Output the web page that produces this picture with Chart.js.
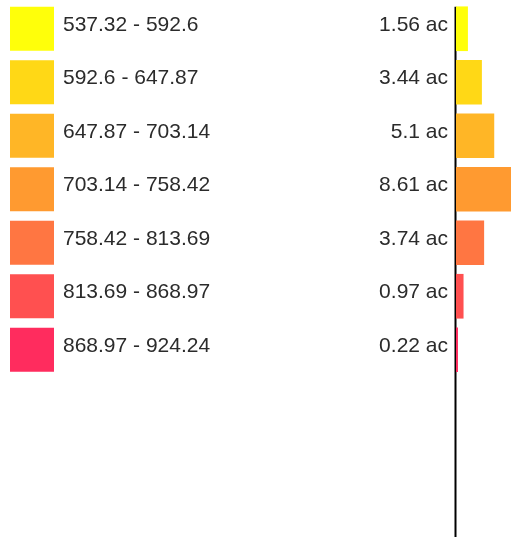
<!DOCTYPE html>
<html>
<head>
<meta charset="utf-8">
<script src="https://cdn.jsdelivr.net/npm/chart.js@4"></script>
<style>
  html, body { margin: 0; padding: 0; background: #fff; overflow: hidden; }
  #wrap { width: 511px; height: 537px; }
</style>
</head>
<body>
<div id="wrap"><canvas id="chart-acres" width="511" height="537"></canvas></div>
<script>
// ==================== DATOS ====================
const rangos = ['537.32 - 592.6', '592.6 - 647.87', '647.87 - 703.14', '703.14 - 758.42',
                '758.42 - 813.69', '813.69 - 868.97', '868.97 - 924.24'];
const acres = [1.56, 3.44, 5.1, 8.61, 3.74, 0.97, 0.22];
const colores = ['#FFFF0A', '#FFD816', '#FFB626', '#FF9A30', '#FF7642', '#FF5050', '#FF2C5E'];
const filasVacias = ['', '', ''];

const fuente = '"Liberation Sans", Arial, Helvetica, sans-serif';

// swatches + etiquetas de rango a la izquierda, y la linea del eje
const leyendaIzq = {
    id: 'leyendaIzq',
    beforeDatasetsDraw(chart) {
        // eje vertical: empieza en el borde superior de la primera barra
        const ctx = chart.ctx;
        const y = chart.scales.y;
        const area = chart.chartArea;
        ctx.save();
        ctx.strokeStyle = '#000';
        ctx.lineWidth = 2;
        ctx.beginPath();
        ctx.moveTo(area.left - 0.5, y.getPixelForValue(0) - 22);
        ctx.lineTo(area.left - 0.5, area.bottom);
        ctx.stroke();
        ctx.restore();
    },
    afterDraw(chart) {
        const ctx = chart.ctx;
        const y = chart.scales.y;
        ctx.save();
        rangos.forEach((r, i) => {
            const py = y.getPixelForValue(i);
            ctx.fillStyle = colores[i];
            ctx.fillRect(10, py - 22, 44, 44);
            ctx.fillStyle = '#2b2b2b';
            ctx.font = '21px ' + fuente;
            ctx.textAlign = 'left';
            ctx.textBaseline = 'middle';
            ctx.fillText(r, 63, py - 4);
        });
        ctx.restore();
    }
};

const ctx = document.getElementById('chart-acres').getContext('2d');
new Chart(ctx, {
    type: 'bar',
    data: {
        labels: rangos.concat(filasVacias),
        datasets: [{
            data: acres,
            backgroundColor: colores,
            borderWidth: 0,
            barThickness: 44
        }]
    },
    options: {
        indexAxis: 'y',
        responsive: false,
        animation: false,
        layout: { padding: { top: 2, left: 0, right: 0, bottom: 0 } },
        plugins: { legend: { display: false }, tooltip: { enabled: false }, title: { display: false } },
        scales: {
            x: { display: false, min: 0, max: 7.4 },
            y: {
                grid: { display: false, drawTicks: false },
                border: { display: false },
                ticks: {
                    padding: 8,
                    labelOffset: -4,
                    color: '#2b2b2b',
                    font: { size: 21, family: fuente },
                    callback: (v, i) => i < acres.length ? acres[i] + ' ac' : ''
                },
                afterFit: (s) => {
                    s.width = 456;
                    s.paddingTop = 0;
                    s.paddingBottom = 0;
                }
            }
        }
    },
    plugins: [leyendaIzq]
});
</script>
</body>
</html>
